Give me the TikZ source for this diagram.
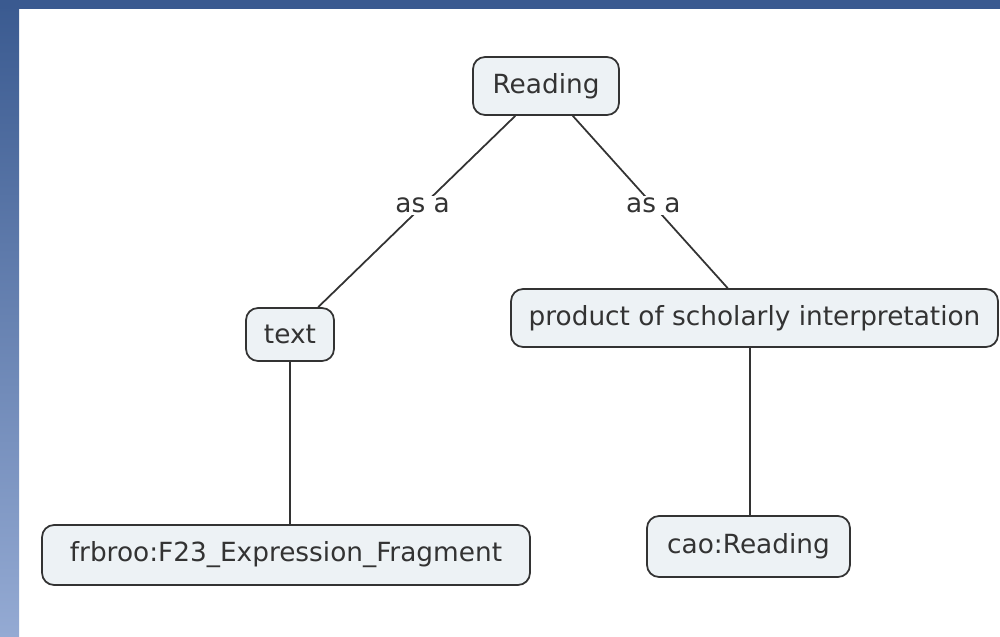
\documentclass[tikz,border=0pt]{standalone}
\usepackage{fontspec}
\setmainfont{DejaVu Sans}
\usepackage{tikz}

\definecolor{bandtop}{HTML}{3A5A90}
\definecolor{bandbot}{HTML}{94AAD3}
\definecolor{boxfill}{HTML}{EDF2F5}
\definecolor{edge}{HTML}{333333}

\begin{document}
\begin{tikzpicture}[x=0.02cm, y=-0.02cm,
    concept/.style={draw=edge, line width=1pt, fill=boxfill, rounded corners=0.24cm,
      font=\fontsize{15}{18}\selectfont, text=black!80},
    link/.style={draw=edge, line width=1pt},
    linklabel/.style={fill=white, inner sep=1pt, font=\fontsize{15}{18}\selectfont, text=black!80}]
  \useasboundingbox (0,0) rectangle (1000,636);
  \begin{scope}
    \shade[top color=bandtop, bottom color=bandbot] (0,0) rectangle (19,636);
    \fill[bandtop] (0,0) rectangle (1000,9);
    \node[concept, minimum width=2.92cm, minimum height=1.16cm] (reading) at (546,86) {Reading};
    \node[concept, minimum width=1.76cm, minimum height=1.06cm] (text) at (290,334.5) {text};
    \node[concept, minimum width=9.74cm, minimum height=1.16cm] (product) at (754.5,318) {product of scholarly interpretation};
    \node[concept, minimum width=9.76cm, minimum height=1.2cm] (frbroo) at (286,555) {frbroo:F23\_Expression\_Fragment};
    \node[concept, minimum width=4.06cm, minimum height=1.22cm] (cao) at (748.5,546.5) {cao:Reading};
    \draw[link] (reading) -- node[linklabel, pos=.47] {as a} (text);
    \draw[link] (reading) -- node[linklabel, pos=.52] {as a} (product);
    \draw[link] (text.south -| 290,0) -- (frbroo.north -| 290,0);
    \draw[link] (product.south -| 750,0) -- (cao.north -| 750,0);
  \end{scope}
\end{tikzpicture}
\end{document}
